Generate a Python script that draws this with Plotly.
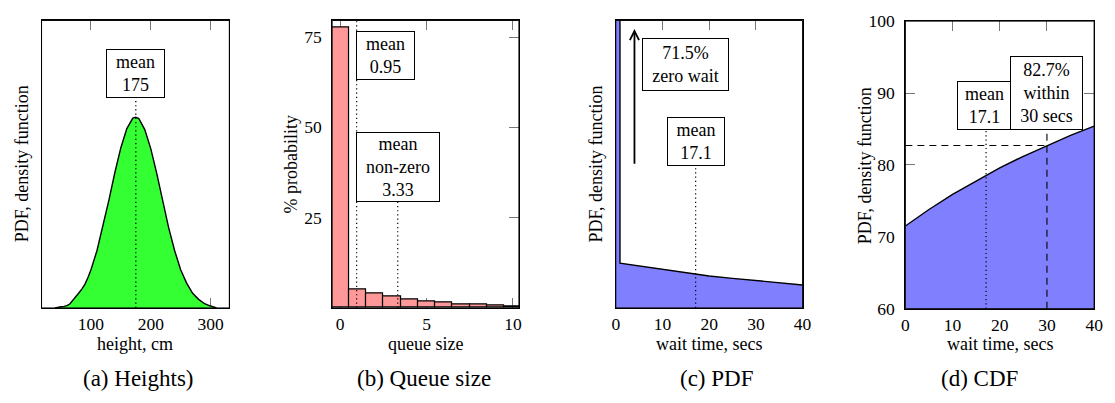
import plotly.graph_objects as go

# ---------------- data ----------------
# (a) heights distribution (density, normalised to peak = 1)
height_x = [40, 45, 50, 55, 60, 65, 70, 75, 80, 85, 90, 95, 100, 110, 120, 130, 140, 150, 160, 170,
            175, 180, 190, 200, 210, 220, 230, 240, 250, 260, 270, 280, 290, 300, 305, 310]
height_pdf = [0.0, 0.004, 0.006, 0.008, 0.012, 0.022, 0.040, 0.058, 0.080, 0.100, 0.125, 0.160, 0.200,
              0.300, 0.425, 0.565, 0.710, 0.840, 0.940, 0.995, 1.0, 0.993, 0.935, 0.835, 0.705, 0.560,
              0.420, 0.300, 0.200, 0.130, 0.077, 0.045, 0.022, 0.010, 0.004, 0.0]
height_mean = 175

# (b) queue size distribution (% probability)
queue_size = [0, 1, 2, 3, 4, 5, 6, 7, 8, 9, 10]
queue_prob = [77.8, 5.2, 4.0, 3.1, 2.4, 1.8, 1.5, 1.1, 0.9, 0.6, 0.45]
queue_mean = 0.95
queue_mean_nonzero = 3.33

# (c) wait-time PDF (spike at zero wait, then decaying density)
wait_x = [0, 0.9, 0.9, 5, 10, 15, 20, 25, 30, 35, 40]
wait_pdf = [5.0, 5.0, 0.156, 0.146, 0.134, 0.123, 0.111, 0.103, 0.095, 0.087, 0.080]
wait_mean = 17.1
zero_wait_pct = 71.5

# (d) wait-time CDF (%)
cdf_x = [0, 5, 10, 15, 20, 25, 30, 35, 40]
cdf_y = [71.5, 73.8, 75.9, 77.8, 79.6, 81.2, 82.7, 84.1, 85.4]
within_secs = 30
within_pct = 82.7

FONT = "Liberation Serif"
W, H = 1115, 403
DOT = "1.2px,3px"
DASH = "7px,5px"


def px_x(p):
    return p / W


def px_y(p):
    return (H - p) / H


fig = go.Figure()

# ---- (a) ----
fig.add_trace(go.Scatter(x=height_x, y=height_pdf, mode="lines", fill="tozeroy",
                         fillcolor="#33FF33", line=dict(color="black", width=1.4),
                         xaxis="x", yaxis="y", showlegend=False, hoverinfo="skip"))
fig.add_trace(go.Scatter(x=[height_mean, height_mean], y=[0, 1.09], mode="lines",
                         line=dict(color="black", width=1.3, dash=DOT),
                         xaxis="x", yaxis="y", showlegend=False, hoverinfo="skip"))

# ---- (b) ----
fig.add_trace(go.Bar(x=queue_size, y=queue_prob, width=1.0,
                     marker=dict(color="#FF9999", line=dict(color="black", width=1.2)),
                     xaxis="x2", yaxis="y2", showlegend=False, hoverinfo="skip"))
fig.add_trace(go.Scatter(x=[queue_mean, queue_mean], y=[0, 79.6], mode="lines",
                         line=dict(color="black", width=1.2, dash=DOT),
                         xaxis="x2", yaxis="y2", showlegend=False, hoverinfo="skip"))
fig.add_trace(go.Scatter(x=[queue_mean_nonzero, queue_mean_nonzero], y=[0, 30.0], mode="lines",
                         line=dict(color="black", width=1.2, dash=DOT),
                         xaxis="x2", yaxis="y2", showlegend=False, hoverinfo="skip"))

# ---- (c) ----
fig.add_trace(go.Scatter(x=wait_x, y=wait_pdf, mode="lines", fill="tozeroy",
                         fillcolor="#8080FF", line=dict(color="black", width=1.4),
                         xaxis="x3", yaxis="y3", showlegend=False, hoverinfo="skip"))
fig.add_trace(go.Scatter(x=[wait_mean, wait_mean], y=[0, 0.5], mode="lines",
                         line=dict(color="black", width=1.2, dash=DOT),
                         xaxis="x3", yaxis="y3", showlegend=False, hoverinfo="skip"))

# ---- (d) ----
fig.add_trace(go.Scatter(x=cdf_x, y=cdf_y, mode="lines", fill="tozeroy",
                         fillcolor="#8080FF", line=dict(color="black", width=1.4),
                         xaxis="x4", yaxis="y4", showlegend=False, hoverinfo="skip"))
fig.add_trace(go.Scatter(x=[wait_mean, wait_mean], y=[60, 85.1], mode="lines",
                         line=dict(color="black", width=1.2, dash=DOT),
                         xaxis="x4", yaxis="y4", showlegend=False, hoverinfo="skip"))
fig.add_trace(go.Scatter(x=[within_secs, within_secs], y=[60, 85.1], mode="lines",
                         line=dict(color="black", width=1.1, dash=DASH),
                         xaxis="x4", yaxis="y4", showlegend=False, hoverinfo="skip"))
fig.add_trace(go.Scatter(x=[0, within_secs], y=[within_pct, within_pct], mode="lines",
                         line=dict(color="black", width=1.1, dash=DASH),
                         xaxis="x4", yaxis="y4", showlegend=False, hoverinfo="skip"))

# ---------------- axes ----------------
dom_y = [px_y(313.5), px_y(11)]
dom_y_d = [px_y(314.3), px_y(11.7)]
dom = {
    "a": [px_x(38), px_x(228)],
    "b": [px_x(332), px_x(521)],
    "c": [px_x(619), px_x(808)],
    "d": [px_x(912), px_x(1103)],
}

common = dict(showgrid=False, zeroline=False, showline=True, linecolor="black", linewidth=1,
              mirror="ticks", ticklen=10, tickcolor="#777777", tickwidth=1,
              layer="below traces", tickfont=dict(family=FONT, size=17.5, color="black"),
              fixedrange=True)

fig.update_layout(
    xaxis=dict(domain=dom["a"], range=[17.4, 331.4], tickvals=[100, 200, 300], anchor="y",
               ticks="inside", ticklabelstandoff=0, **common),
    yaxis=dict(domain=dom_y, range=[0, 1.507], showticklabels=False, anchor="x", ticks="", **common),
    xaxis2=dict(domain=dom["b"], range=[-0.47, 10.35], tickvals=[0, 5, 10], anchor="y2",
                ticks="inside", ticklabelstandoff=0, **common),
    yaxis2=dict(domain=dom_y, range=[0, 79.6], tickvals=[25, 50, 75], anchor="x2",
                ticks="inside", ticklabelstandoff=6, **common),
    xaxis3=dict(domain=dom["c"], range=[0, 40], tickvals=[0, 10, 20, 30, 40], anchor="y3",
                ticks="inside", ticklabelstandoff=0, **common),
    yaxis3=dict(domain=dom_y, range=[0, 1], showticklabels=False, anchor="x3", ticks="", **common),
    xaxis4=dict(domain=dom["d"], range=[0, 40], tickvals=[0, 10, 20, 30, 40], anchor="y4",
                ticks="inside", ticklabelstandoff=0, **common),
    yaxis4=dict(domain=dom_y_d, range=[60, 100], tickvals=[60, 70, 80, 90, 100], anchor="x4",
                ticks="inside", ticklabelstandoff=6, **common),
)

# frames on top of fills
shapes = []
for xr, yr in [("x", "y"), ("x2", "y2"), ("x3", "y3"), ("x4", "y4")]:
    shapes.append(dict(type="rect", xref=f"{xr} domain", yref=f"{yr} domain", x0=0, x1=1, y0=0, y1=1,
                       line=dict(color="black", width=1), fillcolor="rgba(0,0,0,0)", layer="above"))

# ---------------- annotations ----------------
ann = []
box = dict(bordercolor="black", borderwidth=1, borderpad=0, bgcolor="white", showarrow=False,
           font=dict(family=FONT, size=18, color="black"), xanchor="center", yanchor="middle")

ann.append(dict(text=f"mean<br>{height_mean}", x=height_mean, y=1.231, xref="x", yref="y",
                width=57, height=47, **box))
ann.append(dict(text=f"mean<br>{queue_mean}", x=2.638, y=69.86, xref="x2", yref="y2",
                width=57, height=47, **box))
ann.append(dict(text=f"mean<br>non-zero<br>{queue_mean_nonzero}", x=queue_mean_nonzero, y=39.16,
                xref="x2", yref="y2", width=82, height=68, **box))
ann.append(dict(text=f"{zero_wait_pct}%<br>zero wait", x=14.85, y=0.848, xref="x3", yref="y3",
                width=85, height=51, **box))
ann.append(dict(text=f"mean<br>{wait_mean}", x=wait_mean, y=0.579, xref="x3", yref="y3",
                width=56, height=47, **box))
ann.append(dict(text=f"mean<br>{wait_mean}", x=16.69, y=88.26, xref="x4", yref="y4",
                width=53, height=47, **box))
ann.append(dict(text=f"{within_pct}%<br>within<br>{within_secs} secs", x=29.84, y=89.96,
                xref="x4", yref="y4", width=71, height=72, **box))

# arrow for zero-wait spike
ann.append(dict(text="", x=4, y=0.97, ax=4, ay=0.4965, xref="x3", yref="y3", axref="x3", ayref="y3",
                showarrow=True, arrowhead=5, arrowsize=1.0, arrowwidth=1.8, arrowcolor="black"))

txt = dict(showarrow=False, font=dict(family=FONT, size=18, color="black"), xref="paper", yref="paper",
           xanchor="center", yanchor="middle")
# x axis titles
for cx, t in [(133, "height, cm"), (426.5, "queue size"), (713.5, "wait time, secs"), (1007.5, "wait time, secs")]:
    ann.append(dict(text=t, x=px_x(cx), y=px_y(351), **txt))
# y axis titles
for cx, cy, t in [(18.5, 162, "PDF, density function"), (290, 163, "% probability"),
                  (598.5, 162, "PDF, density function"), (871.5, 164, "PDF, density function")]:
    ann.append(dict(text=t, x=px_x(cx), y=px_y(cy), textangle=-90, **txt))
# captions
cap = dict(txt)
cap["font"] = dict(family=FONT, size=23, color="black")
for cx, t in [(136, "(a) Heights)"), (425, "(b) Queue size"), (721, "(c) PDF"), (987, "(d) CDF")]:
    ann.append(dict(text=t, x=px_x(cx), y=px_y(388), **cap))

fig.update_layout(
    width=W, height=H, margin=dict(l=0, r=0, t=0, b=0),
    paper_bgcolor="white", plot_bgcolor="white",
    showlegend=False, annotations=ann, shapes=shapes, bargap=0,
)

fig.write_html("out.html")
